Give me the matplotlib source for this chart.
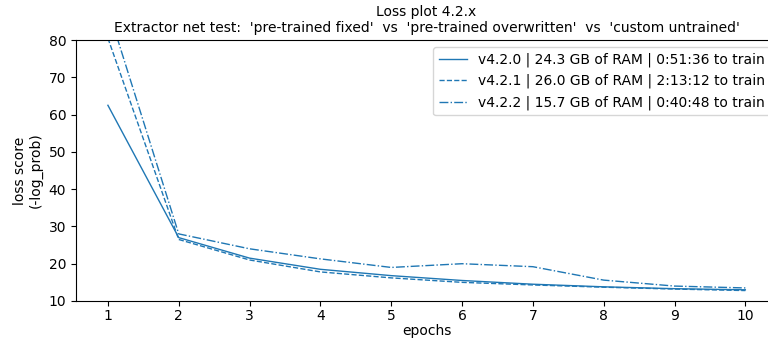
import numpy as np
import matplotlib
matplotlib.use('Agg')
import matplotlib.pyplot as plt

# loss per epoch for each run
epochs = [1, 2, 3, 4, 5, 6, 7, 8, 9, 10]
loss_420 = [62.5, 27.0, 21.5, 18.5, 16.8, 15.5, 14.5, 13.8, 13.3, 13.0]
loss_421 = [80.5, 26.5, 21.0, 17.8, 16.2, 15.0, 14.3, 13.7, 13.2, 12.8]
loss_422 = [88.5, 28.0, 24.0, 21.3, 19.0, 20.0, 19.2, 15.6, 14.0, 13.5]

labels = [
    'v4.2.0 | 24.3 GB of RAM | 0:51:36 to train',
    'v4.2.1 | 26.0 GB of RAM | 2:13:12 to train',
    'v4.2.2 | 15.7 GB of RAM | 0:40:48 to train',
]

fig = plt.figure(figsize=(7.68, 3.38), dpi=100)
# right edge of the axes runs a little past the canvas
ax = fig.add_axes([0.099, 0.1095, 0.913, 0.772])
ax.plot(epochs, loss_420, '-', color='tab:blue', linewidth=1, label=labels[0])
ax.plot(epochs, loss_421, '--', color='tab:blue', linewidth=1, label=labels[1])
ax.plot(epochs, loss_422, '-.', color='tab:blue', linewidth=1, label=labels[2])

ax.set_ylim(10, 80)
ax.set_xticks(epochs)
ax.tick_params(axis='x', pad=2)
ax.set_xlabel('epochs', labelpad=1)
ax.set_ylabel('loss score\n(-log_prob)')
ax.set_title("Loss plot 4.2.x\nExtractor net test:  'pre-trained fixed'  vs  'pre-trained overwritten'  vs  'custom untrained'",
             fontsize=10)
ax.legend(loc='upper right', fontsize=10)

plt.savefig('out.png')
